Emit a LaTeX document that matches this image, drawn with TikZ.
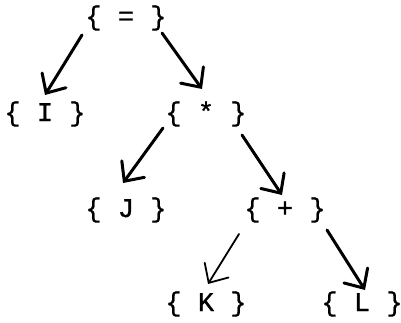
\documentclass[tikz,border=0pt]{standalone}
\usepackage{fontspec}
\setmonofont[FakeBold=0.8]{Liberation Mono}
\usetikzlibrary{arrows.meta}
\tikzset{
  lbl/.style={font=\ttfamily\fontsize{27}{27}\selectfont, inner sep=0pt, text height=19pt, text depth=5pt, anchor=center},
  arr/.style={line width=3pt, line cap=round, -{Straight Barb[length=15pt,width=28pt,line cap=round]}},
  thinarr/.style={line width=1.8pt, line cap=round, -{Straight Barb[length=15pt,width=28pt,line cap=round]}}
}
\begin{document}
\begin{tikzpicture}[x=1pt,y=1pt]
\useasboundingbox (0,0) rectangle (401,322);
\node[lbl] (eq) at (126,304) {\{ = \}};
\node[lbl] (I)  at (45,208)  {\{ I \}};
\node[lbl] (st) at (206,208) {\{ * \}};
\node[lbl] (J)  at (126,112) {\{ J \}};
\node[lbl] (pl) at (285,112) {\{ + \}};
\node[lbl] (K)  at (206,18)  {\{ K \}};
\node[lbl] (L)  at (362,18)  {\{ L \}};
\draw[arr] ([shift={(-44pt,-17pt)}]eq.center) -- ([shift={(0pt,19pt)}]I.center);
\draw[arr] ([shift={(36pt,-15pt)}]eq.center) -- ([shift={(-4pt,25pt)}]st.center);
\draw[arr] ([shift={(-43pt,-14pt)}]st.center) -- ([shift={(-3pt,27pt)}]J.center);
\draw[arr] ([shift={(36pt,-21pt)}]st.center) -- ([shift={(-3pt,15pt)}]pl.center);
\draw[thinarr] ([shift={(-46pt,-24pt)}]pl.center) -- ([shift={(2pt,20pt)}]K.center);
\draw[arr] ([shift={(42pt,-20pt)}]pl.center) -- ([shift={(3pt,14pt)}]L.center);
\end{tikzpicture}
\end{document}
